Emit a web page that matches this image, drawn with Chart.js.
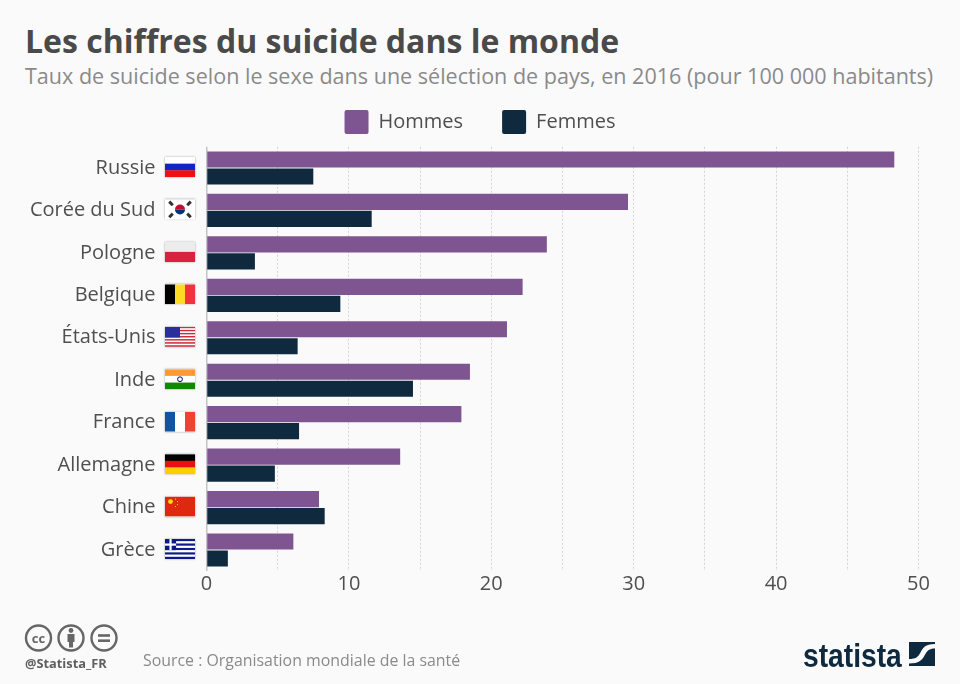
<!DOCTYPE html>
<html lang="fr">
<head>
<meta charset="utf-8">
<title>Les chiffres du suicide dans le monde</title>
<script src="https://cdn.jsdelivr.net/npm/chart.js@4"></script>
<style>
  html, body { margin: 0; padding: 0; background: #fafafa; }
  body { width: 960px; height: 684px; position: relative; overflow: hidden; font-family: "Open Sans", sans-serif; }
  #chart { position: absolute; left: 0; top: 0; }
  .txt { position: absolute; white-space: nowrap; line-height: 1; }
  #title { left: 25px; top: 25px; font-size: 32px; font-weight: 700; color: #4a4a4a; }
  #subtitle { left: 25px; top: 65px; font-size: 21.55px; color: #8a8a8a; }
  #handle { left: 25px; top: 657px; font-size: 12.8px; font-weight: 700; color: #5f5f5f; }
  #source { left: 143px; top: 653px; font-size: 15.9px; color: #8a8a8a; }
  #brand { left: 803px; top: 638px; font-family: "Liberation Sans", sans-serif; font-size: 34px; font-weight: 700; color: #0f2a3f; transform-origin: left top; transform: scaleX(0.83); }
  svg { position: absolute; }
</style>
</head>
<body>
<div class="txt" id="title">Les chiffres du suicide dans le monde</div>
<div class="txt" id="subtitle">Taux de suicide selon le sexe dans une sélection de pays, en 2016 (pour 100 000 habitants)</div>
<canvas id="chart" width="960" height="684"></canvas>

<svg style="left:20px;top:620px" width="100" height="36" viewBox="0 0 100 36" fill="none" stroke="#666" stroke-width="2.4">
  <circle cx="18.5" cy="18" r="12.5"/>
  <circle cx="51" cy="18" r="12.5"/>
  <circle cx="84" cy="18" r="12.5"/>
  <text x="18.5" y="22.5" text-anchor="middle" font-family="Open Sans" font-size="13" font-weight="700" fill="#666" stroke="none">cc</text>
  <circle cx="51" cy="10.5" r="2.4" fill="#666" stroke="none"/>
  <rect x="47.5" y="14" width="7" height="8" fill="#666" stroke="none"/>
  <rect x="49" y="21" width="4" height="6.5" fill="#666" stroke="none"/>
  <rect x="78" y="14.2" width="12" height="2.6" fill="#666" stroke="none"/>
  <rect x="78" y="19.4" width="12" height="2.6" fill="#666" stroke="none"/>
</svg>
<div class="txt" id="handle">@Statista_FR</div>
<div class="txt" id="source">Source : Organisation mondiale de la santé</div>
<div class="txt" id="brand">statista</div>
<svg style="left:909px;top:642px" width="26" height="24" viewBox="0 0 26 24">
  <rect width="26" height="24" fill="#0f2a3f"/>
  <path d="M26 2 C16 2 14 6 11.5 10.5 C9 15 7 17 0 17 L0 21.5 C10 21.5 13 18 15.5 13.5 C18 9 20 6.5 26 6.5 Z" fill="#fafafa"/>
</svg>

<script>
const categories = ['Russie', 'Corée du Sud', 'Pologne', 'Belgique', 'États-Unis', 'Inde', 'France', 'Allemagne', 'Chine', 'Grèce']
const flagCodes = ['ru', 'kr', 'pl', 'be', 'us', 'in', 'fr', 'de', 'cn', 'gr']
const hommes = [48.3, 29.6, 23.9, 22.2, 21.1, 18.5, 17.9, 13.6, 7.9, 6.1]
const femmes = [7.5, 11.6, 3.4, 9.4, 6.4, 14.5, 6.5, 4.8, 8.3, 1.5]

const purple = '#7f5591'
const navy = '#0f2a3f'
const textColor = '#4f4f4f'

// bandes horizontales / verticales d'un drapeau
function stripes(ctx, x, y, w, h, colors, vertical) {
  colors.forEach((c, i) => {
    ctx.fillStyle = c
    if (vertical) ctx.fillRect(x + w * i / colors.length, y, w / colors.length + 0.3, h)
    else ctx.fillRect(x, y + h * i / colors.length, w, h / colors.length + 0.3)
  })
}

function drawFlag(ctx, code, x, y, w, h) {
  if (code == 'ru') stripes(ctx, x, y, w, h, ['#ffffff', '#1226c8', '#f01010'])
  else if (code == 'pl') stripes(ctx, x, y, w, h, ['#ececec', '#d9223f'])
  else if (code == 'be') stripes(ctx, x, y, w, h, ['#000000', '#fdda24', '#ef3340'], true)
  else if (code == 'fr') stripes(ctx, x, y, w, h, ['#0f55a5', '#ffffff', '#ef4135'], true)
  else if (code == 'de') stripes(ctx, x, y, w, h, ['#000000', '#e81010', '#ffce00'])
  else if (code == 'in') {
    stripes(ctx, x, y, w, h, ['#ff9933', '#ffffff', '#138808'])
    ctx.strokeStyle = '#000080'
    ctx.lineWidth = 1
    ctx.beginPath()
    ctx.arc(x + w / 2, y + h / 2, 2.4, 0, Math.PI * 2)
    ctx.stroke()
  }
  else if (code == 'cn') {
    ctx.fillStyle = '#de2910'
    ctx.fillRect(x, y, w, h)
    ctx.fillStyle = '#ffde00'
    ctx.beginPath()
    ctx.arc(x + 5.5, y + 5, 2.4, 0, Math.PI * 2)
    ctx.fill()
    ;[[10, 2], [12, 4.5], [12, 7.5], [10, 9.5]].forEach(p => ctx.fillRect(x + p[0], y + p[1], 1, 1))
  }
  else if (code == 'kr') {
    ctx.fillStyle = '#ffffff'
    ctx.fillRect(x, y, w, h)
    const cx = x + w / 2, cy = y + h / 2
    ctx.fillStyle = '#c60c30'
    ctx.beginPath()
    ctx.arc(cx, cy, 5, Math.PI, 0)
    ctx.fill()
    ctx.fillStyle = '#003478'
    ctx.beginPath()
    ctx.arc(cx, cy, 5, 0, Math.PI)
    ctx.fill()
    ctx.fillStyle = '#333333'
    ;[[-9, -6], [9, -6], [-9, 6], [9, 6]].forEach(p => {
      ctx.save()
      ctx.translate(cx + p[0], cy + p[1])
      ctx.rotate(Math.PI / 4 * (p[0] * p[1] > 0 ? 1 : -1))
      ctx.fillRect(-2.5, -1.5, 5, 3)
      ctx.restore()
    })
  }
  else if (code == 'us') {
    const s = []
    for (let i = 0; i < 13; i++) s.push(i % 2 ? '#ffffff' : '#c8303c')
    stripes(ctx, x, y, w, h, s)
    ctx.fillStyle = '#2a2f9c'
    ctx.fillRect(x, y, w * 0.5, h * 7 / 13)
  }
  else if (code == 'gr') {
    const s = []
    for (let i = 0; i < 9; i++) s.push(i % 2 ? '#ffffff' : '#0d1a8a')
    stripes(ctx, x, y, w, h, s)
    ctx.fillStyle = '#0d1a8a'
    ctx.fillRect(x, y, w * 0.37, h * 5 / 9)
    ctx.fillStyle = '#ffffff'
    ctx.fillRect(x, y + h * 2 / 9, w * 0.37, h / 9)
    ctx.fillRect(x + w * 0.148, y, w * 0.074, h * 5 / 9)
  }
}

const flagsPlugin = {
  id: 'flags',
  afterDraw(chart) {
    const ctx = chart.ctx
    const yScale = chart.scales.y
    flagCodes.forEach((code, i) => {
      const cy = yScale.getPixelForValue(i) - 1
      const x = 165, w = 30, h = 20, y = cy - h / 2
      ctx.save()
      ctx.shadowColor = 'rgba(0,0,0,0.35)'
      ctx.shadowBlur = 2
      ctx.fillStyle = '#ffffff'
      ctx.fillRect(x, y, w, h)
      ctx.restore()
      ctx.save()
      ctx.beginPath()
      ctx.rect(x, y, w, h)
      ctx.clip()
      drawFlag(ctx, code, x, y, w, h)
      ctx.restore()
    })
  }
}

// la légende est centrée sur la page et non sur la zone réduite par le padding droit
const legendPlacement = {
  id: 'legendPlacement',
  afterLayout(chart) {
    const l = chart.legend
    l.left += 20.75
    l.right += 20.75
    l.top -= 2.75
    l.bottom -= 2.75
  }
}

Chart.defaults.font.family = '"Open Sans", sans-serif'

new Chart(document.getElementById('chart').getContext('2d'), {
  type: 'bar',
  data: {
    labels: categories,
    datasets: [
      { label: 'Hommes', data: hommes, backgroundColor: purple, barPercentage: 0.95, categoryPercentage: 0.8 },
      { label: 'Femmes', data: femmes, backgroundColor: navy, barPercentage: 0.95, categoryPercentage: 0.8 }
    ]
  },
  options: {
    indexAxis: 'y',
    responsive: false,
    animation: false,
    layout: { padding: { top: 73.75, right: 41.5, bottom: 0, left: 0 } },
    plugins: {
      tooltip: { enabled: false },
      legend: {
        position: 'top',
        labels: {
          boxWidth: 24,
          boxHeight: 24,
          padding: 39,
          color: textColor,
          font: { size: 20 },
          useBorderRadius: true,
          borderRadius: 2
        }
      }
    },
    scales: {
      x: {
        min: 0,
        max: 50,
        afterFit(scale) { scale.height = 684 - 571.25 },
        border: {
          display: false,
          dash: ctx => ctx.tick && ctx.tick.value == 0 ? [] : [2, 2]
        },
        grid: {
          color: ctx => ctx.tick.value == 0 ? '#c4c4c4' : '#d4d4d4',
          lineWidth: ctx => ctx.tick.value == 0 ? 1.5 : 1,
          drawTicks: false
        },
        ticks: {
          stepSize: 5,
          autoSkip: false,
          maxRotation: 0,
          padding: 1,
          color: textColor,
          font: { size: 20 },
          callback: v => v % 10 == 0 ? v : ''
        }
      },
      y: {
        afterFit(scale) { scale.width = 206.5 },
        border: { display: false },
        grid: { display: false },
        ticks: {
          padding: 43,
          autoSkip: false,
          color: textColor,
          font: { size: 20 }
        }
      }
    }
  },
  plugins: [flagsPlugin, legendPlacement]
})
</script>
</body>
</html>
